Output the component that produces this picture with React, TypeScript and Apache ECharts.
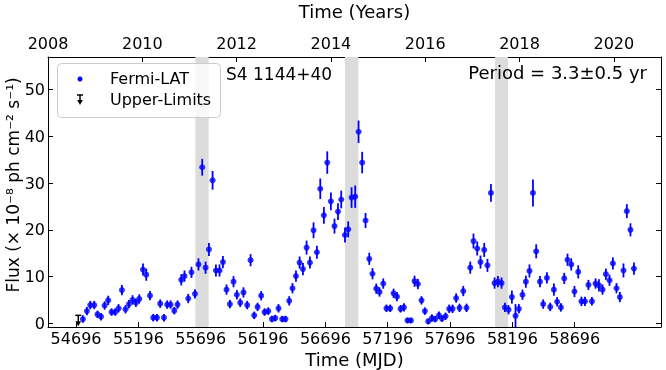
import React, { useEffect, useRef } from "react";
import * as echarts from "echarts";

const mjd = [54751,54783,54810,54842,54868,54896,54925,54954,54981,55010,55037,55064,55093,55120,55149,55176,55203,55233,55259,55289,55315,55345,55371,55401,55427,55454,55484,55510,55540,55566,55596,55622,55650,55678,55708,55735,55762,55791,55818,55847,55874,55903,55930,55959,55986,
56013,56039,56069,56096,56125,56152,56181,56208,56238,56267,56294,56320,56350,56376,56406,56432,56460,56489,56516,56545,56572,56601,56628,56655,56684,56711,56740,56769,56797,56823,56853,56879,56906,56935,56962,56991,57018,57048,57074,57104,57130,57160,57186,57216,57243,57270,57299,57326,57355,57382,57411,57438,57467,57494,57521,57550,57577,57607,
57631,57660,57689,57716,57745,57772,57802,57828,57858,57884,57914,57940,57970,57996,58024,58053,58080,58109,58136,58165,58192,58221,58248,58277,58304,58333,58361,58387,58417,58443,58473,58499,58529,58555,58585,58612,58638,58668,58694,58724,58750,58778,58806,58834,58863,58890,58919,58946,58975,59002,59031,59058,59087,59114,59143,59171];

const flux = [0.9,2.6,3.9,3.9,1.9,1.4,3.8,4.9,2.4,2.4,3.2,7.1,3.0,4.1,5.0,4.4,5.2,11.5,10.4,5.9,1.2,1.2,4.2,1.2,4.0,4.0,2.7,4.0,9.3,10.1,5.3,10.9,6.3,12.6,33.4,11.9,15.8,30.6,11.3,11.3,13.1,7.2,4.1,8.9,6.1,
4.4,6.6,3.9,13.5,1.7,3.5,5.9,2.4,2.6,0.9,1.1,3.2,0.9,0.9,4.8,7.5,10.1,13.0,11.6,16.2,13.0,19.9,15.2,28.8,23.1,34.4,26.1,20.8,23.9,26.5,18.9,20.1,26.9,27.1,41.0,34.4,22.0,13.8,10.6,7.4,6.7,8.5,3.2,3.2,6.4,5.7,3.1,3.4,0.6,0.6,9.0,8.4,4.9,2.6,0.4,1.1,0.9,1.7,
1.0,1.5,3.1,3.1,5.4,3.3,6.9,3.3,11.9,17.6,16.0,13.1,15.7,12.4,27.9,8.6,8.9,8.6,3.4,2.9,5.6,1.6,3.1,6.1,8.9,11.2,27.9,15.4,8.9,4.1,9.7,3.5,7.2,4.6,3.4,9.6,13.6,12.6,6.8,11.0,4.7,4.7,8.2,4.7,8.5,8.1,7.2,10.5,9.2,12.8,7.5,5.6,11.3,24.0,20.0,11.7];

const fluxErr = [0.8,0.9,0.9,0.9,0.8,0.8,0.9,1.0,0.8,0.8,0.9,1.1,0.9,0.9,1.0,0.9,1.0,1.3,1.3,1.0,0.8,0.8,0.9,0.8,0.9,0.9,0.8,0.9,1.2,1.2,1.0,1.2,1.0,1.3,1.8,1.3,1.4,2.0,1.3,1.3,1.3,1.1,0.9,1.2,1.0,
0.9,1.1,0.9,1.3,0.8,0.9,1.0,0.8,0.8,0.7,0.7,0.9,0.7,0.7,1.0,1.1,1.2,1.3,1.3,1.5,1.3,1.7,1.4,2.2,1.8,2.4,1.9,1.6,1.8,1.9,1.6,1.7,2.2,2.4,2.4,2.3,1.6,1.3,1.2,1.1,1.0,1.1,0.8,0.8,1.0,1.0,0.8,0.9,0.6,0.6,1.2,1.1,0.9,0.8,0.6,0.8,0.7,0.8,
0.7,0.8,0.9,0.9,1.0,0.9,1.1,0.9,1.3,1.6,1.5,1.4,1.5,1.4,1.9,1.2,1.2,1.2,1.0,1.0,1.4,2.5,1.0,1.1,1.3,1.4,2.9,1.5,1.2,1.0,1.2,0.9,1.3,1.0,0.9,1.2,1.3,1.3,1.2,1.4,1.0,1.0,1.1,0.9,1.1,1.3,1.1,1.2,1.2,1.3,1.1,1.1,1.5,1.5,1.4,1.3];

const upperLimitMjd = [54714];
const upperLimitFlux = [1.7];

const bandStarts = [55653, 56853, 58057];
const bandEnds = [55760, 56960, 58161];

const mjdTicks = [54696, 55196, 55696, 56196, 56696, 57196, 57696, 58196, 58696];
const fluxTicks = [0, 10, 20, 30, 40, 50];

const FONT = "DejaVu Sans";

export default function App() {
  const ref = useRef<HTMLDivElement>(null);
  useEffect(() => {
    if (!ref.current) return;
    const chart = echarts.init(ref.current, null, { renderer: "svg" });
    const points = mjd.map((m, i) => [m, flux[i], fluxErr[i]]);
    const ul = upperLimitMjd.map((m, i) => [m, upperLimitFlux[i]]);
    const bands = bandStarts.map((s, i) => [{ xAxis: s }, { xAxis: bandEnds[i] }]);
    const axisLineStyle = { color: "#000", width: 1 };
    const plain = (v: number) => String(v);
    chart.setOption({
      animation: false,
      grid: { left: 48, right: 5, top: 57, bottom: 43, containLabel: false, outerBoundsMode: "none" },
      xAxis: [
        {
          type: "value", position: "bottom", min: 54471, max: 59388,
          axisLine: { show: true, onZero: false, lineStyle: axisLineStyle },
          axisTick: { show: true, inside: true, length: 5, customValues: mjdTicks, lineStyle: axisLineStyle },
          axisLabel: { customValues: mjdTicks, formatter: plain, fontSize: 16, fontFamily: FONT, color: "#000", margin: 3 },
          splitLine: { show: false },
          name: "Time (MJD)", nameLocation: "middle", nameGap: 17,
          nameTextStyle: { fontSize: 18, fontFamily: FONT, color: "#000" },
        },
        {
          type: "value", position: "top", min: 2008, max: 2021, interval: 2,
          axisLine: { show: true, onZero: false, lineStyle: axisLineStyle },
          axisTick: { show: true, inside: true, length: 5, lineStyle: axisLineStyle },
          axisLabel: { formatter: plain, fontSize: 16, fontFamily: FONT, color: "#000", margin: 6, showMaxLabel: false },
          splitLine: { show: false },
          name: "Time (Years)", nameLocation: "middle", nameGap: 37,
          nameTextStyle: { fontSize: 18, fontFamily: FONT, color: "#000" },
        },
      ],
      yAxis: [
        {
          type: "value", position: "left", min: -0.8, max: 57,
          axisLine: { show: true, onZero: false, lineStyle: axisLineStyle },
          axisTick: { show: true, inside: true, length: 5, customValues: fluxTicks, lineStyle: axisLineStyle },
          axisLabel: { customValues: fluxTicks, formatter: plain, fontSize: 16, fontFamily: FONT, color: "#000", margin: 3 },
          splitLine: { show: false },
        },
        {
          type: "value", position: "right", min: -0.8, max: 57,
          axisLine: { show: true, onZero: false, lineStyle: axisLineStyle },
          axisTick: { show: true, inside: true, length: 5, customValues: fluxTicks, lineStyle: axisLineStyle },
          axisLabel: { show: false },
          splitLine: { show: false },
        },
      ],
      series: [
        {
          type: "scatter", data: [], z: 1, silent: true,
          markArea: { silent: true, itemStyle: { color: "#dcdcdc", opacity: 1 }, data: bands },
        },
        {
          type: "custom", z: 3, clip: true, data: points,
          renderItem: (params: any, api: any) => {
            const x = api.value(0), y = api.value(1), e = api.value(2);
            const p1 = api.coord([x, y - e]);
            const p2 = api.coord([x, y + e]);
            return {
              type: "line",
              shape: { x1: p1[0], y1: p1[1], x2: p2[0], y2: p2[1] },
              style: { stroke: "#0000ff", lineWidth: 1.8 },
            };
          },
        },
        {
          type: "scatter", z: 4, data: points.map((p) => [p[0], p[1]]),
          symbol: "circle", symbolSize: 6, itemStyle: { color: "#0000ff" },
        },
        {
          type: "custom", z: 4, data: ul,
          renderItem: (params: any, api: any) => {
            const p = api.coord([api.value(0), api.value(1)]);
            const x = p[0], y = p[1];
            return {
              type: "group",
              children: [
                { type: "line", shape: { x1: x - 3, y1: y, x2: x + 3, y2: y }, style: { stroke: "#000", lineWidth: 1.5 } },
                { type: "line", shape: { x1: x, y1: y, x2: x, y2: y + 7 }, style: { stroke: "#000", lineWidth: 1.5 } },
                { type: "polygon", shape: { points: [[x - 2.8, y + 6], [x + 2.8, y + 6], [x, y + 11]] }, style: { fill: "#000" } },
              ],
            };
          },
        },
      ],
      graphic: [
        {
          type: "text", x: 13, y: 185, rotation: Math.PI / 2, z: 11,
          style: { text: "Flux (× 10⁻⁸ ph cm⁻² s⁻¹)", font: `17px "${FONT}"`, fill: "#000", align: "center", verticalAlign: "middle" },
        },
        {
          type: "rect", left: 57, top: 63, z: 10,
          shape: { width: 163, height: 54, r: 4 },
          style: { fill: "rgba(255,255,255,0.8)", stroke: "#cccccc", lineWidth: 1 },
        },
        { type: "circle", x: 80, y: 79, z: 11, shape: { cx: 0, cy: 0, r: 2.5 }, style: { fill: "#0000ff" } },
        { type: "text", left: 110, top: 70, z: 11, style: { text: "Fermi-LAT", font: `16px "${FONT}"`, fill: "#000" } },
        { type: "line", z: 11, shape: { x1: 77, y1: 95, x2: 83, y2: 95 }, style: { stroke: "#000", lineWidth: 1.5 } },
        { type: "line", z: 11, shape: { x1: 80, y1: 95, x2: 80, y2: 101 }, style: { stroke: "#000", lineWidth: 1.5 } },
        { type: "polygon", z: 11, shape: { points: [[77.2, 100], [82.8, 100], [80, 105]] }, style: { fill: "#000" } },
        { type: "text", left: 110, top: 91, z: 11, style: { text: "Upper-Limits", font: `16px "${FONT}"`, fill: "#000" } },
        { type: "text", left: 226, top: 65, z: 11, style: { text: "S4 1144+40", font: `17px "${FONT}"`, fill: "#000" } },
        { type: "text", right: 19, top: 63, z: 11, style: { text: "Period = 3.3±0.5 yr", font: `18px "${FONT}"`, fill: "#000" } },
      ],
    });
    return () => chart.dispose();
  }, []);
  return <div ref={ref} style={{ position: "fixed", left: 0, top: 0, width: 666, height: 370 }} />;
}
